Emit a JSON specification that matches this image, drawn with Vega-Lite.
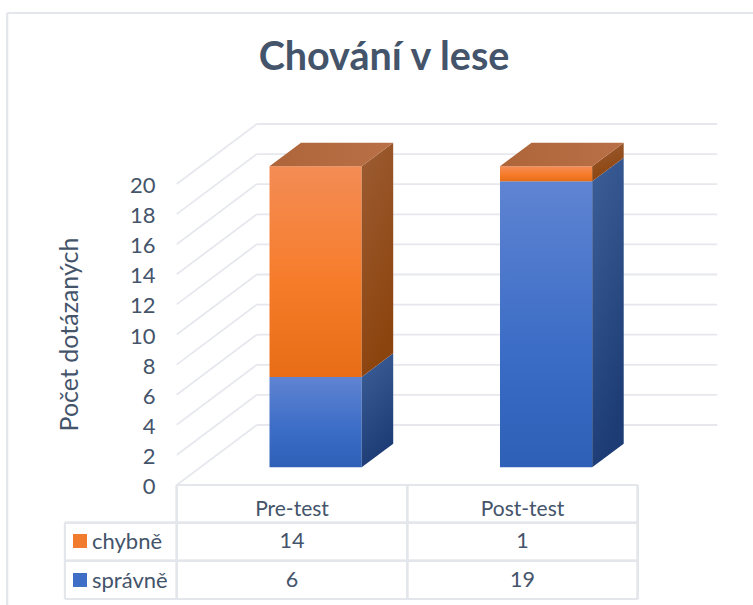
{
"$schema":"https://vega.github.io/schema/vega-lite/v6.json",
"width":753,"height":605,"padding":0,"autosize":{"type":"none"},
"background":"white",
"view":{"stroke":null},
"title":{"text":"Chování v lese","font":"Lato","fontSize":39.5,"fontWeight":"bold","color":"#44546A","anchor":"middle","frame":"group","dx":7.5,"dy":82},
"datasets":{
 "results":[
  {"test":"Pre-test","status":"správně","count":6},
  {"test":"Pre-test","status":"chybně","count":14},
  {"test":"Post-test","status":"správně","count":19},
  {"test":"Post-test","status":"chybně","count":1}
 ],
 "ticks":[{"v":0},{"v":2},{"v":4},{"v":6},{"v":8},{"v":10},{"v":12},{"v":14},{"v":16},{"v":18},{"v":20}]
},
"data":{"name":"results"},
"transform":[
 {"calculate":"datum.test==='Pre-test'?1:2","as":"i"},
 {"calculate":"datum.status==='správně'?0:1","as":"o"},
 {"stack":"count","groupby":["test"],"sort":[{"field":"o","order":"ascending"}],"as":["v0","v1"]},
 {"calculate":"datum.i-0.0976","as":"fx0"},
 {"calculate":"datum.i+0.3024","as":"fx1"},
 {"calculate":"datum.v0+1.176","as":"fy0"},
 {"calculate":"datum.v1+1.176","as":"fy1"}
],
"encoding":{
 "x":{"type":"quantitative","scale":{"domain":[-0.2668,3],"nice":false,"zero":false},"axis":null},
 "y":{"type":"quantitative","scale":{"domain":[-7.973,32.226],"nice":false,"zero":false},"axis":{"values":[0,2,4,6,8,10,12,14,16,18,20],"orient":"left","offset":-155,"ticks":false,"domain":false,"grid":false,"labelPadding":0,"labelOffset":1.5,"labelFont":"Lato","labelFontSize":22,"labelColor":"#44546A","title":"Počet dotázaných","titleFont":"Lato","titleFontSize":25,"titleFontWeight":"normal","titleColor":"#44546A","titleX":-78,"titleY":334,"titleAlign":"center","titleBaseline":"alphabetic","labelFlush":false,"labelOverlap":false}}
},
"layer":[
 {"mark":{"type":"rule","stroke":"#E3E6EB","strokeWidth":2},"encoding":{"x":{"datum":-0.236},"y":{"datum":-7.973},"y2":{"datum":31.36}}},
 {"mark":{"type":"rule","stroke":"#E3E6EB","strokeWidth":2},"encoding":{"x":{"datum":-0.236},"x2":{"datum":3},"y":{"datum":31.36}}},

 {"data":{"name":"ticks"},"transform":[{"calculate":"datum.v+3.987","as":"w"}],
  "mark":{"type":"rule","stroke":"#E6E8EE","strokeWidth":1.8},
  "encoding":{"x":{"datum":0.5},"x2":{"datum":0.847},"y":{"field":"v","type":"quantitative"},"y2":{"field":"w"}}},
 {"data":{"name":"ticks"},"transform":[{"calculate":"datum.v+3.987","as":"w"}],
  "mark":{"type":"rule","stroke":"#E6E8EE","strokeWidth":1.8},
  "encoding":{"x":{"datum":0.847},"x2":{"datum":2.845},"y":{"field":"w","type":"quantitative"}}},

 {"transform":[{"filter":"datum.status==='správně'"}],
  "mark":{"type":"rect","fill":{"gradient":"linear","x1":0,"y1":0,"x2":0,"y2":1,"stops":[{"offset":0,"color":"#5F84D2"},{"offset":0.6,"color":"#3B6CC6"},{"offset":1,"color":"#2E60B7"}]}},
  "encoding":{"x":{"field":"fx0","type":"quantitative"},"x2":{"field":"fx1"},"y":{"field":"fy0","type":"quantitative"},"y2":{"field":"fy1"}}},
 {"transform":[{"filter":"datum.status==='chybně'"}],
  "mark":{"type":"rect","fill":{"gradient":"linear","x1":0,"y1":0,"x2":0,"y2":1,"stops":[{"offset":0,"color":"#F48C55"},{"offset":0.55,"color":"#F67C2A"},{"offset":1,"color":"#E86D16"}]}},
  "encoding":{"x":{"field":"fx0","type":"quantitative"},"x2":{"field":"fx1"},"y":{"field":"fy0","type":"quantitative"},"y2":{"field":"fy1"}}},

 {"transform":[{"filter":"datum.status==='správně'"},{"calculate":"[0,1]","as":"t"},{"flatten":["t"]},{"calculate":"datum.fx1+datum.t*0.1367","as":"sx"},{"calculate":"datum.fy0+datum.t*1.571","as":"s0"},{"calculate":"datum.fy1+datum.t*1.571","as":"s1"}],
  "mark":{"type":"area","fill":{"gradient":"linear","x1":0,"y1":0,"x2":0.3,"y2":1,"stops":[{"offset":0,"color":"#3D5F98"},{"offset":1,"color":"#1D3C76"}]}},
  "encoding":{"x":{"field":"sx","type":"quantitative"},"y":{"field":"s0","type":"quantitative"},"y2":{"field":"s1"},"detail":{"field":"test"}}},
 {"transform":[{"filter":"datum.status==='chybně'"},{"calculate":"[0,1]","as":"t"},{"flatten":["t"]},{"calculate":"datum.fx1+datum.t*0.1367","as":"sx"},{"calculate":"datum.fy0+datum.t*1.571","as":"s0"},{"calculate":"datum.fy1+datum.t*1.571","as":"s1"}],
  "mark":{"type":"area","fill":{"gradient":"linear","x1":0,"y1":0,"x2":0.3,"y2":1,"stops":[{"offset":0,"color":"#9C5C33"},{"offset":1,"color":"#8C440E"}]}},
  "encoding":{"x":{"field":"sx","type":"quantitative"},"y":{"field":"s0","type":"quantitative"},"y2":{"field":"s1"},"detail":{"field":"test"}}},
 {"transform":[{"filter":"datum.status==='chybně'"},{"calculate":"[0,1]","as":"t"},{"flatten":["t"]},{"calculate":"datum.fx0+datum.t*0.1367","as":"tx0"},{"calculate":"datum.fx1+datum.t*0.1367","as":"tx1"},{"calculate":"datum.fy1+datum.t*1.571","as":"ty"}],
  "mark":{"type":"area","orient":"horizontal","fill":{"gradient":"linear","x1":0,"y1":0,"x2":1,"y2":0,"stops":[{"offset":0,"color":"#AE653A"},{"offset":1,"color":"#BA7046"}]}},
  "encoding":{"y":{"field":"ty","type":"quantitative"},"x":{"field":"tx0","type":"quantitative"},"x2":{"field":"tx1"},"detail":{"field":"test"}}},

 {"mark":{"type":"rule","stroke":"#E3E6EB","strokeWidth":2},"encoding":{"x":{"datum":0.5},"x2":{"datum":2.5},"y":{"datum":0}}},
 {"mark":{"type":"rule","stroke":"#E3E6EB","strokeWidth":2},"encoding":{"x":{"datum":0.015},"x2":{"datum":2.5},"y":{"datum":-2.505}}},
 {"mark":{"type":"rule","stroke":"#E3E6EB","strokeWidth":2},"encoding":{"x":{"datum":0.015},"x2":{"datum":2.5},"y":{"datum":-5.03}}},
 {"mark":{"type":"rule","stroke":"#E3E6EB","strokeWidth":2},"encoding":{"x":{"datum":0.015},"x2":{"datum":2.5},"y":{"datum":-7.575}}},
 {"mark":{"type":"rule","stroke":"#E3E6EB","strokeWidth":2},"encoding":{"x":{"datum":0.015},"y":{"datum":-2.505},"y2":{"datum":-7.575}}},
 {"mark":{"type":"rule","stroke":"#E3E6EB","strokeWidth":2},"encoding":{"x":{"datum":0.5},"y":{"datum":0},"y2":{"datum":-7.575}}},
 {"mark":{"type":"rule","stroke":"#E3E6EB","strokeWidth":2},"encoding":{"x":{"datum":1.5},"y":{"datum":0},"y2":{"datum":-7.575}}},
 {"mark":{"type":"rule","stroke":"#E3E6EB","strokeWidth":2},"encoding":{"x":{"datum":2.5},"y":{"datum":0},"y2":{"datum":-7.575}}},

 {"transform":[{"filter":"datum.status==='chybně'"}],
  "mark":{"type":"text","font":"Lato","fontSize":21,"color":"#44546A","align":"center","baseline":"middle"},
  "encoding":{"x":{"field":"i","type":"quantitative"},"y":{"datum":-1.65},"text":{"field":"test"}}},
 {"transform":[{"filter":"datum.status==='chybně'"}],
  "mark":{"type":"text","font":"Lato","fontSize":21.5,"color":"#44546A","align":"center","baseline":"middle"},
  "encoding":{"x":{"field":"i","type":"quantitative"},"y":{"datum":-3.78},"text":{"field":"count"}}},
 {"transform":[{"filter":"datum.status==='správně'"}],
  "mark":{"type":"text","font":"Lato","fontSize":21.5,"color":"#44546A","align":"center","baseline":"middle"},
  "encoding":{"x":{"field":"i","type":"quantitative"},"y":{"datum":-6.4},"text":{"field":"count"}}},
 {"transform":[{"filter":"datum.status==='chybně' && datum.i===1"}],
  "mark":{"type":"text","font":"Lato","fontSize":22,"color":"#44546A","align":"left","baseline":"middle"},
  "encoding":{"x":{"datum":0.1323},"y":{"datum":-3.78},"text":{"field":"status"}}},
 {"transform":[{"filter":"datum.status==='správně' && datum.i===1"}],
  "mark":{"type":"text","font":"Lato","fontSize":22,"color":"#44546A","align":"left","baseline":"middle"},
  "encoding":{"x":{"datum":0.1323},"y":{"datum":-6.4},"text":{"field":"status"}}},
 {"transform":[{"filter":"datum.status==='chybně' && datum.i===1"}],
  "mark":{"type":"square","size":196,"opacity":1,"fill":"#F27C2D"},
  "encoding":{"x":{"datum":0.0803},"y":{"datum":-3.72}}},
 {"transform":[{"filter":"datum.status==='správně' && datum.i===1"}],
  "mark":{"type":"square","size":196,"opacity":1,"fill":"#3F6EC6"},
  "encoding":{"x":{"datum":0.0803},"y":{"datum":-6.31}}}
]
}
